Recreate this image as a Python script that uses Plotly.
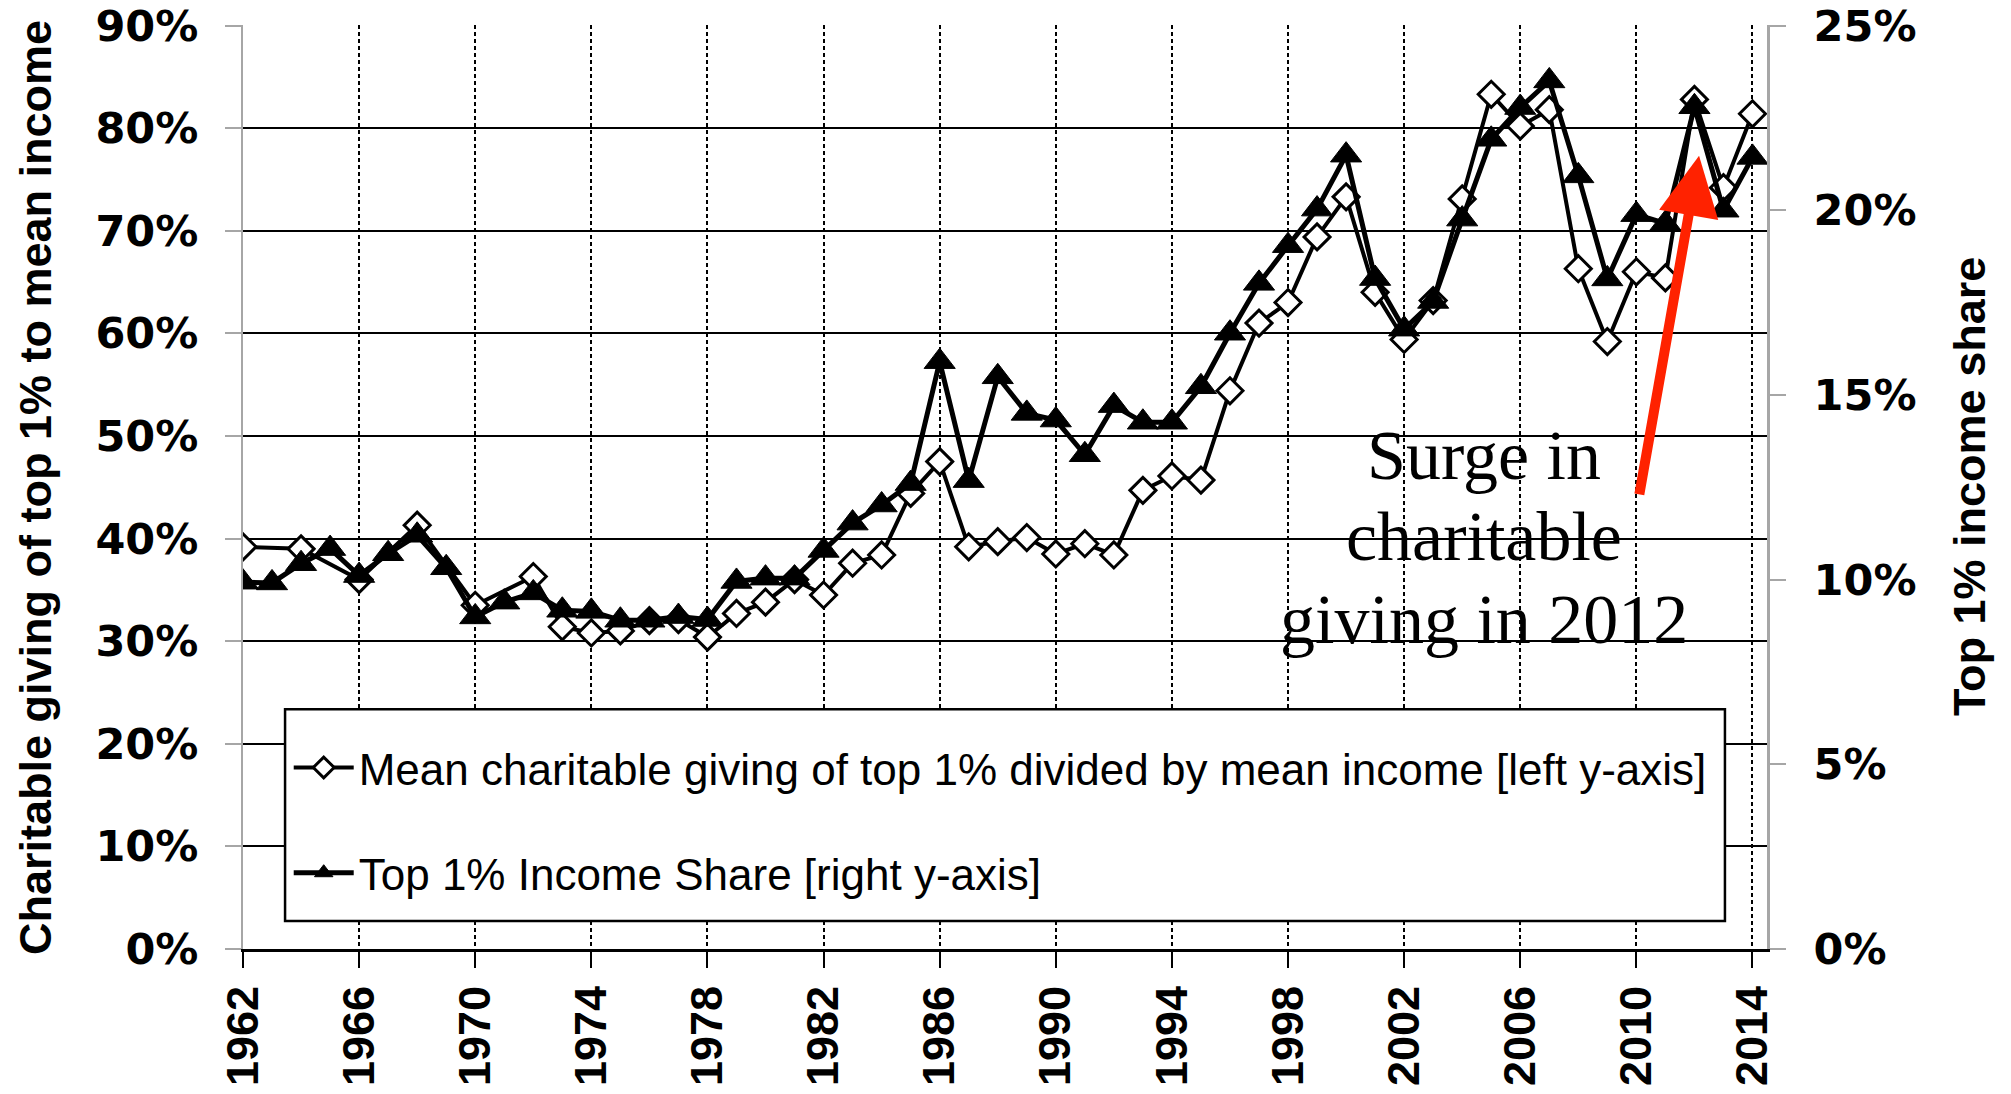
import plotly.graph_objects as go

years = list(range(1962, 2015))

# Mean charitable giving of top 1% divided by mean income (%), left axis
giving = [39.2, None, 39.0, None, 36.0, None, 41.3, None, 33.5, None,
          36.3, 31.4, 30.8, 31.0, 32.0, 32.1, 30.4, 32.7, 33.8, 36.0,
          34.5, 37.6, 38.4, 44.4, 47.5, 39.2, 39.7, 40.1, 38.5, 39.5,
          38.4, 44.7, 46.1, 45.7, 54.4, 61.0, 63.0, 69.4, 73.3, 64.0,
          59.4, 63.2, 73.1, 83.3, 80.2, 81.8, 66.3, 59.2, 66.0, 65.4,
          82.8, 74.2, 81.4]

# Top 1% income share (%), right axis
share = [9.93, 9.91, 10.43, 10.84, 10.11, 10.70, 11.20, 10.32, 8.99, 9.39,
         9.64, 9.17, 9.14, 8.90, 8.90, 9.00, 8.92, 9.95, 10.04, 10.04,
         10.79, 11.53, 12.02, 12.60, 15.90, 12.68, 15.49, 14.50, 14.32, 13.38,
         14.71, 14.26, 14.26, 15.22, 16.67, 18.02, 19.04, 20.03, 21.49, 18.15,
         16.78, 17.53, 19.76, 21.92, 22.78, 23.50, 20.93, 18.14, 19.88, 19.64,
         22.80, 20.00, 21.43]

tick_years = list(range(1962, 2015, 4))
tick_labels = [str(y) for y in tick_years]
left_ticks = list(range(0, 91, 10))
right_ticks = list(range(0, 26, 5))

name_giving = "Mean charitable giving of top 1% divided by mean income [left y-axis]"
name_share = "Top 1% Income Share [right y-axis]"
note_lines = ["Surge in", "charitable", "giving in 2012"]

SANS = "Liberation Sans"

fig = go.Figure()
fig.add_trace(go.Scatter(
    x=years, y=giving, name=name_giving, mode="lines+markers",
    connectgaps=True, legendgroup="g1",
    line=dict(color="black", width=4),
    marker=dict(symbol="diamond", size=20, color="white",
                line=dict(color="black", width=3)),
    yaxis="y"))
fig.add_trace(go.Scatter(
    x=years, y=share, name=name_share, mode="lines+markers",
    legendgroup="g2",
    line=dict(color="black", width=5),
    marker=dict(symbol="triangle-up", size=27, color="black",
                line=dict(color="black", width=1)),
    yaxis="y2"))

ytickfont = dict(family="DejaVu Sans", size=43, color="black", weight="bold")
xtickfont = dict(family=SANS, size=45, color="black", weight="bold")
titlefont = dict(family=SANS, size=45, color="black", weight="bold")

ymax_left = 90.05
ymax_right = 25 * ymax_left / 90

annotations = [
    dict(text="Charitable giving of top 1% to mean income", textangle=-90,
         xref="paper", yref="paper", x=-0.1365, y=0.5, xanchor="center",
         yanchor="middle", showarrow=False, font=titlefont),
    dict(text="Top 1% income share", textangle=-90,
         xref="paper", yref="paper", x=1.1326, y=0.5, xanchor="center",
         yanchor="middle", showarrow=False, font=titlefont),
]
for line_text, ypos in zip(note_lines, [0.534, 0.4467, 0.3564]):
    annotations.append(dict(text=line_text, xref="paper", yref="paper",
                            x=0.8143, y=ypos, xanchor="center", yanchor="middle",
                            showarrow=False,
                            font=dict(family="Liberation Serif", size=70, color="black")))
annotations.append(dict(text="", xref="x", yref="y", x=2012.16, y=77.3,
                        ax=-60, ay=340, showarrow=True, arrowhead=2, arrowsize=1.2,
                        arrowwidth=10, arrowcolor="#FF2200", standoff=0))

fig.update_layout(
    width=2011, height=1094,
    margin=dict(l=243, r=244, t=25, b=145, pad=0, autoexpand=False),
    paper_bgcolor="white", plot_bgcolor="white",
    showlegend=True,
    legend=dict(x=0.030, y=0.2344, xanchor="left", yanchor="top",
                bgcolor="rgba(0,0,0,0)", borderwidth=0,
                font=dict(family=SANS, size=44, color="black"),
                itemwidth=60, tracegroupgap=45, traceorder="grouped"),
    xaxis=dict(range=[1962, 2014.5], tickmode="array", tickvals=tick_years,
               ticktext=tick_labels, tickangle=-90, tickfont=xtickfont,
               showgrid=True, gridcolor="black", gridwidth=1.5, griddash="4px,3px",
               showline=True, linecolor="black", linewidth=3,
               ticks="outside", ticklen=16, tickcolor="black", tickwidth=1.5,
               zeroline=False, ticklabelstandoff=0, automargin=False),
    yaxis=dict(range=[0, ymax_left], tickmode="array", tickvals=left_ticks,
               ticktext=[f"{v}%" for v in left_ticks], tickfont=ytickfont,
               showgrid=True, gridcolor="black", gridwidth=2,
               showline=True, linecolor="#a6a6a6", linewidth=2,
               ticks="outside", ticklen=16, tickcolor="#a6a6a6", tickwidth=2,
               zeroline=False, ticklabelstandoff=18, automargin=False),
    yaxis2=dict(range=[0, ymax_right], overlaying="y", side="right", tickmode="array",
                tickvals=right_ticks, ticktext=[f"{v}%" for v in right_ticks],
                tickfont=ytickfont, showgrid=False,
                showline=True, linecolor="#a6a6a6", linewidth=3,
                ticks="outside", ticklen=16, tickcolor="#a6a6a6", tickwidth=2,
                zeroline=False, ticklabelstandoff=19, automargin=False),
    shapes=[dict(type="rect", xref="paper", yref="paper",
                 x0=0.0276, x1=0.9724, y0=0.0303, y1=0.2596,
                 line=dict(color="black", width=2.5), fillcolor="white",
                 layer="above")],
    annotations=annotations,
)

fig.write_html("out.html", config={"displayModeBar": False},
               post_script="document.body.style.margin='0';document.body.style.overflow='hidden';")
